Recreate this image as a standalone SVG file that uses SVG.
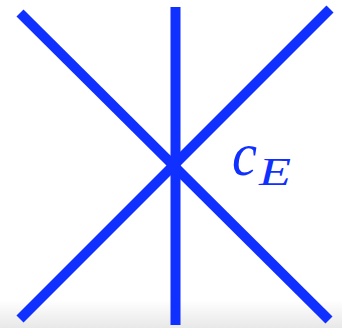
<svg xmlns="http://www.w3.org/2000/svg" width="342" height="328" viewBox="0 0 342 328">
<defs>
<linearGradient id="shade" x1="0" y1="0" x2="0" y2="1">
<stop offset="0" stop-color="#ffffff"/>
<stop offset="1" stop-color="#e8e8e8"/>
</linearGradient>
</defs>
<style>
.ln{stroke:#1030ff;stroke-width:10;fill:none;stroke-linecap:butt}
</style>
<rect width="342" height="328" fill="#ffffff"/>
<rect x="0" y="300" width="342" height="28" fill="url(#shade)"/>
<g id="connectors">
<line class="ln" x1="20" y1="13" x2="329" y2="320"/>
<line class="ln" x1="330" y1="9" x2="20" y2="319"/>
<line class="ln" x1="175.5" y1="7" x2="175.5" y2="325"/>
</g>
<g id="label" font-family="Liberation Serif, DejaVu Serif, serif" font-style="italic" fill="#1030ff">
<text x="232" y="175" font-size="62" textLength="25" lengthAdjust="spacingAndGlyphs">c</text>
<text x="259" y="185" font-size="40" textLength="32" lengthAdjust="spacingAndGlyphs">E</text>
</g>
</svg>
